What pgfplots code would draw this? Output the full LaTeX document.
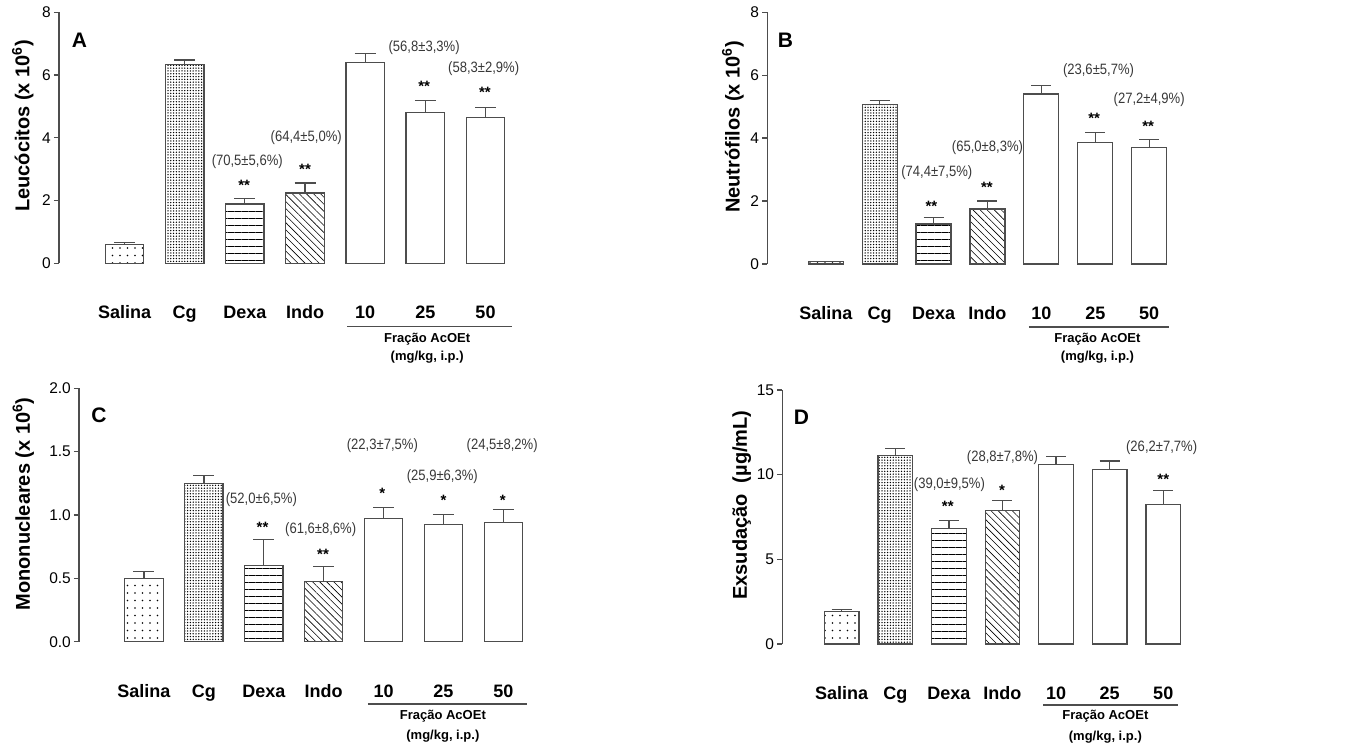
\documentclass[border=0pt]{standalone}
\usepackage{pgfplots}
\pgfplotsset{compat=1.18}
\usepackage{fontspec}
\setmainfont{Liberation Sans}
\usepackage{graphicx}
\usetikzlibrary{patterns.meta}

\definecolor{axgray}{HTML}{4D4D4D}
\definecolor{anncol}{HTML}{383838}

\newcommand{\ann}[1]{\scalebox{0.87}[1]{\fontsize{15}{17}\selectfont #1}}
\newcommand{\st}[1]{{\fontsize{15}{17}\selectfont\bfseries #1}}

\pgfplotsset{
  panel/.style={
    scale only axis, clip=false,
    axis lines*=left,
    x axis line style={draw=none},
    y axis line style={draw=axgray, line width=1.3pt},
    ytick style={draw=axgray, line width=1.3pt},
    tick align=outside, major tick length=5pt,
    xtick={0,...,6},
    xticklabels={Salina,Cg,Dexa,Indo,10,25,50},
    xtick style={draw=none},
    xticklabel style={font=\fontsize{18}{20}\selectfont\bfseries, anchor=base, yshift=-50.5pt},
    yticklabel style={font=\fontsize{15.5}{18}\selectfont, inner xsep=3pt},
    /pgf/number format/assume math mode=true,
    ylabel style={font=\fontsize{20}{22}\selectfont\bfseries, anchor=center},
    ymin=0, xmax=6.6,
    ybar, bar shift=0pt,
  },
  bstyle/.style={draw=axgray, line width=1.2pt,
    error bars/.cd, y dir=plus, y explicit,
    error bar style={draw=axgray, line width=1.3pt},
    error mark options={rotate=90, draw=axgray, line width=1.3pt, mark size=#1}},
  sal/.style={pattern={Dots[distance=7.5pt, radius=0.8pt]}},
  cg/.style={pattern={Dots[distance=2.8pt, radius=0.75pt]}},
  dexa/.style={pattern={Lines[angle=0, distance=7pt, line width=0.9pt]}},
  indo/.style={pattern={Lines[angle=-45, distance=5pt, line width=0.6pt]}},
  frac/.style={fill=white},
}

\begin{document}
\begin{tikzpicture}[x=1pt,y=1pt]
\useasboundingbox (0,0) rectangle (1358,743);

% ---------------- A ----------------
\begin{axis}[panel, anchor=south west, at={(59pt,479.7pt)},
  width=462.6pt, height=251pt, xmin=-1.089, ymax=8, ytick={0,2,4,6,8},
  bar width=38.5pt,
  ylabel={Leucócitos (x 10\textsuperscript{6})},
  ylabel style={at={(axis description cs:-0.078,0.547)}}]
\addplot[sal, bstyle=10.5pt] coordinates {(0,0.60) +- (0,0.07)};
\addplot[cg, bstyle=10.5pt] coordinates {(1,6.34) +- (0,0.14)};
\addplot[dexa, bstyle=10.5pt] coordinates {(2,1.89) +- (0,0.18)};
\addplot[indo, bstyle=10.5pt] coordinates {(3,2.24) +- (0,0.32)};
\addplot[frac, bstyle=10.5pt] coordinates {(4,6.40) +- (0,0.29)};
\addplot[frac, bstyle=10.5pt] coordinates {(5,4.80) +- (0,0.39)};
\addplot[frac, bstyle=10.5pt] coordinates {(6,4.64) +- (0,0.32)};
\node[font=\fontsize{21}{23}\selectfont\bfseries] at (axis cs:-0.748,7.10) {A};
\node[anncol] at (axis cs:2.04,3.23) {\ann{(70,5±5,6\%)}};
\node[yshift=-3pt] at (axis cs:1.99,2.59) {\st{**}};
\node[anncol] at (axis cs:3.02,4.02) {\ann{(64,4±5,0\%)}};
\node[yshift=-3pt] at (axis cs:3.0,3.10) {\st{**}};
\node[anncol] at (axis cs:4.98,6.89) {\ann{(56,8±3,3\%)}};
\node[yshift=-3pt] at (axis cs:4.98,5.74) {\st{**}};
\node[anncol] at (axis cs:5.97,6.22) {\ann{(58,3±2,9\%)}};
\node[yshift=-3pt] at (axis cs:5.99,5.55) {\st{**}};
\draw[line width=1.2pt, axgray] ([yshift=-63.4pt]axis cs:3.70,0) -- ([yshift=-63.4pt]axis cs:6.44,0);
\node[font=\fontsize{13}{15}\selectfont\bfseries] at ([yshift=-75.7pt]axis cs:5.03,0) {Fração AcOEt};
\node[font=\fontsize{13}{15}\selectfont\bfseries] at ([yshift=-93.7pt]axis cs:5.03,0) {(mg/kg, i.p.)};
\end{axis}

% ---------------- B ----------------
\begin{axis}[panel, anchor=south west, at={(767.3pt,479pt)},
  width=414.2pt, height=251.7pt, xmin=-1.085, ymax=8, ytick={0,2,4,6,8},
  bar width=35pt,
  ylabel={Neutrófilos (x 10\textsuperscript{6})},
  ylabel style={at={(axis description cs:-0.083,0.544)}}]
\addplot[sal, bstyle=10pt] coordinates {(0,0.08) +- (0,0.0)};
\addplot[cg, bstyle=10pt] coordinates {(1,5.08) +- (0,0.12)};
\addplot[dexa, bstyle=10pt] coordinates {(2,1.27) +- (0,0.21)};
\addplot[indo, bstyle=10pt] coordinates {(3,1.75) +- (0,0.25)};
\addplot[frac, bstyle=10pt] coordinates {(4,5.40) +- (0,0.27)};
\addplot[frac, bstyle=10pt] coordinates {(5,3.86) +- (0,0.31)};
\addplot[frac, bstyle=10pt] coordinates {(6,3.70) +- (0,0.25)};
\node[font=\fontsize{21}{23}\selectfont\bfseries] at (axis cs:-0.748,7.10) {B};
\node[anncol] at (axis cs:2.06,2.90) {\ann{(74,4±7,5\%)}};
\node[yshift=-3pt] at (axis cs:1.96,1.94) {\st{**}};
\node[anncol] at (axis cs:3.0,3.70) {\ann{(65,0±8,3\%)}};
\node[yshift=-3pt] at (axis cs:2.99,2.54) {\st{**}};
\node[anncol] at (axis cs:5.06,6.14) {\ann{(23,6±5,7\%)}};
\node[yshift=-3pt] at (axis cs:4.98,4.71) {\st{**}};
\node[anncol] at (axis cs:6.0,5.24) {\ann{(27,2±4,9\%)}};
\node[yshift=-3pt] at (axis cs:5.98,4.48) {\st{**}};
\draw[line width=1.2pt, axgray] ([yshift=-63pt]axis cs:3.77,0) -- ([yshift=-63pt]axis cs:6.36,0);
\node[font=\fontsize{13}{15}\selectfont\bfseries] at ([yshift=-75pt]axis cs:5.04,0) {Fração AcOEt};
\node[font=\fontsize{13}{15}\selectfont\bfseries] at ([yshift=-93pt]axis cs:5.04,0) {(mg/kg, i.p.)};
\end{axis}

% ---------------- C ----------------
\begin{axis}[panel, anchor=south west, at={(79pt,101.3pt)},
  width=460.3pt, height=253.4pt, xmin=-1.085, ymax=2, ytick={0,0.5,1,1.5,2},
  y tick label style={/pgf/number format/fixed, /pgf/number format/fixed zerofill, /pgf/number format/precision=1},
  bar width=38.3pt,
  ylabel={Mononucleares (x 10\textsuperscript{6})},
  ylabel style={at={(axis description cs:-0.121,0.543)}}]
\addplot[sal, bstyle=10.5pt] coordinates {(0,0.497) +- (0,0.059)};
\addplot[cg, bstyle=10.5pt] coordinates {(1,1.25) +- (0,0.063)};
\addplot[dexa, bstyle=10.5pt] coordinates {(2,0.60) +- (0,0.205)};
\addplot[indo, bstyle=10.5pt] coordinates {(3,0.477) +- (0,0.115)};
\addplot[frac, bstyle=10.5pt] coordinates {(4,0.971) +- (0,0.09)};
\addplot[frac, bstyle=10.5pt] coordinates {(5,0.924) +- (0,0.078)};
\addplot[frac, bstyle=10.5pt] coordinates {(6,0.942) +- (0,0.10)};
\node[font=\fontsize{21}{23}\selectfont\bfseries] at (axis cs:-0.751,1.785) {C};
\node[anncol] at (axis cs:1.96,1.124) {\ann{(52,0±6,5\%)}};
\node[yshift=-3pt] at (axis cs:1.98,0.927) {\st{**}};
\node[anncol] at (axis cs:2.95,0.882) {\ann{(61,6±8,6\%)}};
\node[yshift=-3pt] at (axis cs:2.99,0.710) {\st{**}};
\node[anncol] at (axis cs:3.98,1.547) {\ann{(22,3±7,5\%)}};
\node[yshift=-3pt] at (axis cs:3.98,1.197) {\st{*}};
\node[anncol] at (axis cs:4.98,1.302) {\ann{(25,9±6,3\%)}};
\node[yshift=-3pt] at (axis cs:5.0,1.140) {\st{*}};
\node[anncol] at (axis cs:5.98,1.55) {\ann{(24,5±8,2\%)}};
\node[yshift=-3pt] at (axis cs:5.99,1.142) {\st{*}};
\draw[line width=1.2pt, axgray] ([yshift=-62.3pt]axis cs:3.74,0) -- ([yshift=-62.3pt]axis cs:6.39,0);
\node[font=\fontsize{13}{15}\selectfont\bfseries] at ([yshift=-74.3pt]axis cs:4.99,0) {Fração AcOEt};
\node[font=\fontsize{13}{15}\selectfont\bfseries] at ([yshift=-94pt]axis cs:4.99,0) {(mg/kg, i.p.)};
\end{axis}

% ---------------- D ----------------
\begin{axis}[panel, anchor=south west, at={(782.3pt,99pt)},
  width=413.1pt, height=254pt, xmin=-1.108, ymax=15, ytick={0,5,10,15},
  bar width=34.7pt,
  ylabel={Exsudação\ \ (µg/mL)},
  ylabel style={at={(axis description cs:-0.098,0.547)}}]
\addplot[sal, bstyle=10pt] coordinates {(0,1.91) +- (0,0.14)};
\addplot[cg, bstyle=10pt] coordinates {(1,11.14) +- (0,0.42)};
\addplot[dexa, bstyle=10pt] coordinates {(2,6.83) +- (0,0.47)};
\addplot[indo, bstyle=10pt] coordinates {(3,7.90) +- (0,0.59)};
\addplot[frac, bstyle=10pt] coordinates {(4,10.59) +- (0,0.50)};
\addplot[frac, bstyle=10pt] coordinates {(5,10.32) +- (0,0.49)};
\addplot[frac, bstyle=10pt] coordinates {(6,8.25) +- (0,0.83)};
\node[font=\fontsize{21}{23}\selectfont\bfseries] at (axis cs:-0.75,13.38) {D};
\node[anncol] at (axis cs:2.01,9.39) {\ann{(39,0±9,5\%)}};
\node[yshift=-3pt] at (axis cs:1.98,8.31) {\st{**}};
\node[anncol] at (axis cs:3.0,11.03) {\ann{(28,8±7,8\%)}};
\node[yshift=-3pt] at (axis cs:2.99,9.26) {\st{*}};
\node[anncol] at (axis cs:5.97,11.62) {\ann{(26,2±7,7\%)}};
\node[yshift=-3pt] at (axis cs:6.0,9.92) {\st{**}};
\draw[line width=1.2pt, axgray] ([yshift=-61pt]axis cs:3.76,0) -- ([yshift=-61pt]axis cs:6.28,0);
\node[font=\fontsize{13}{15}\selectfont\bfseries] at ([yshift=-72pt]axis cs:4.92,0) {Fração AcOEt};
\node[font=\fontsize{13}{15}\selectfont\bfseries] at ([yshift=-93pt]axis cs:4.92,0) {(mg/kg, i.p.)};
\end{axis}
\end{tikzpicture}
\end{document}
